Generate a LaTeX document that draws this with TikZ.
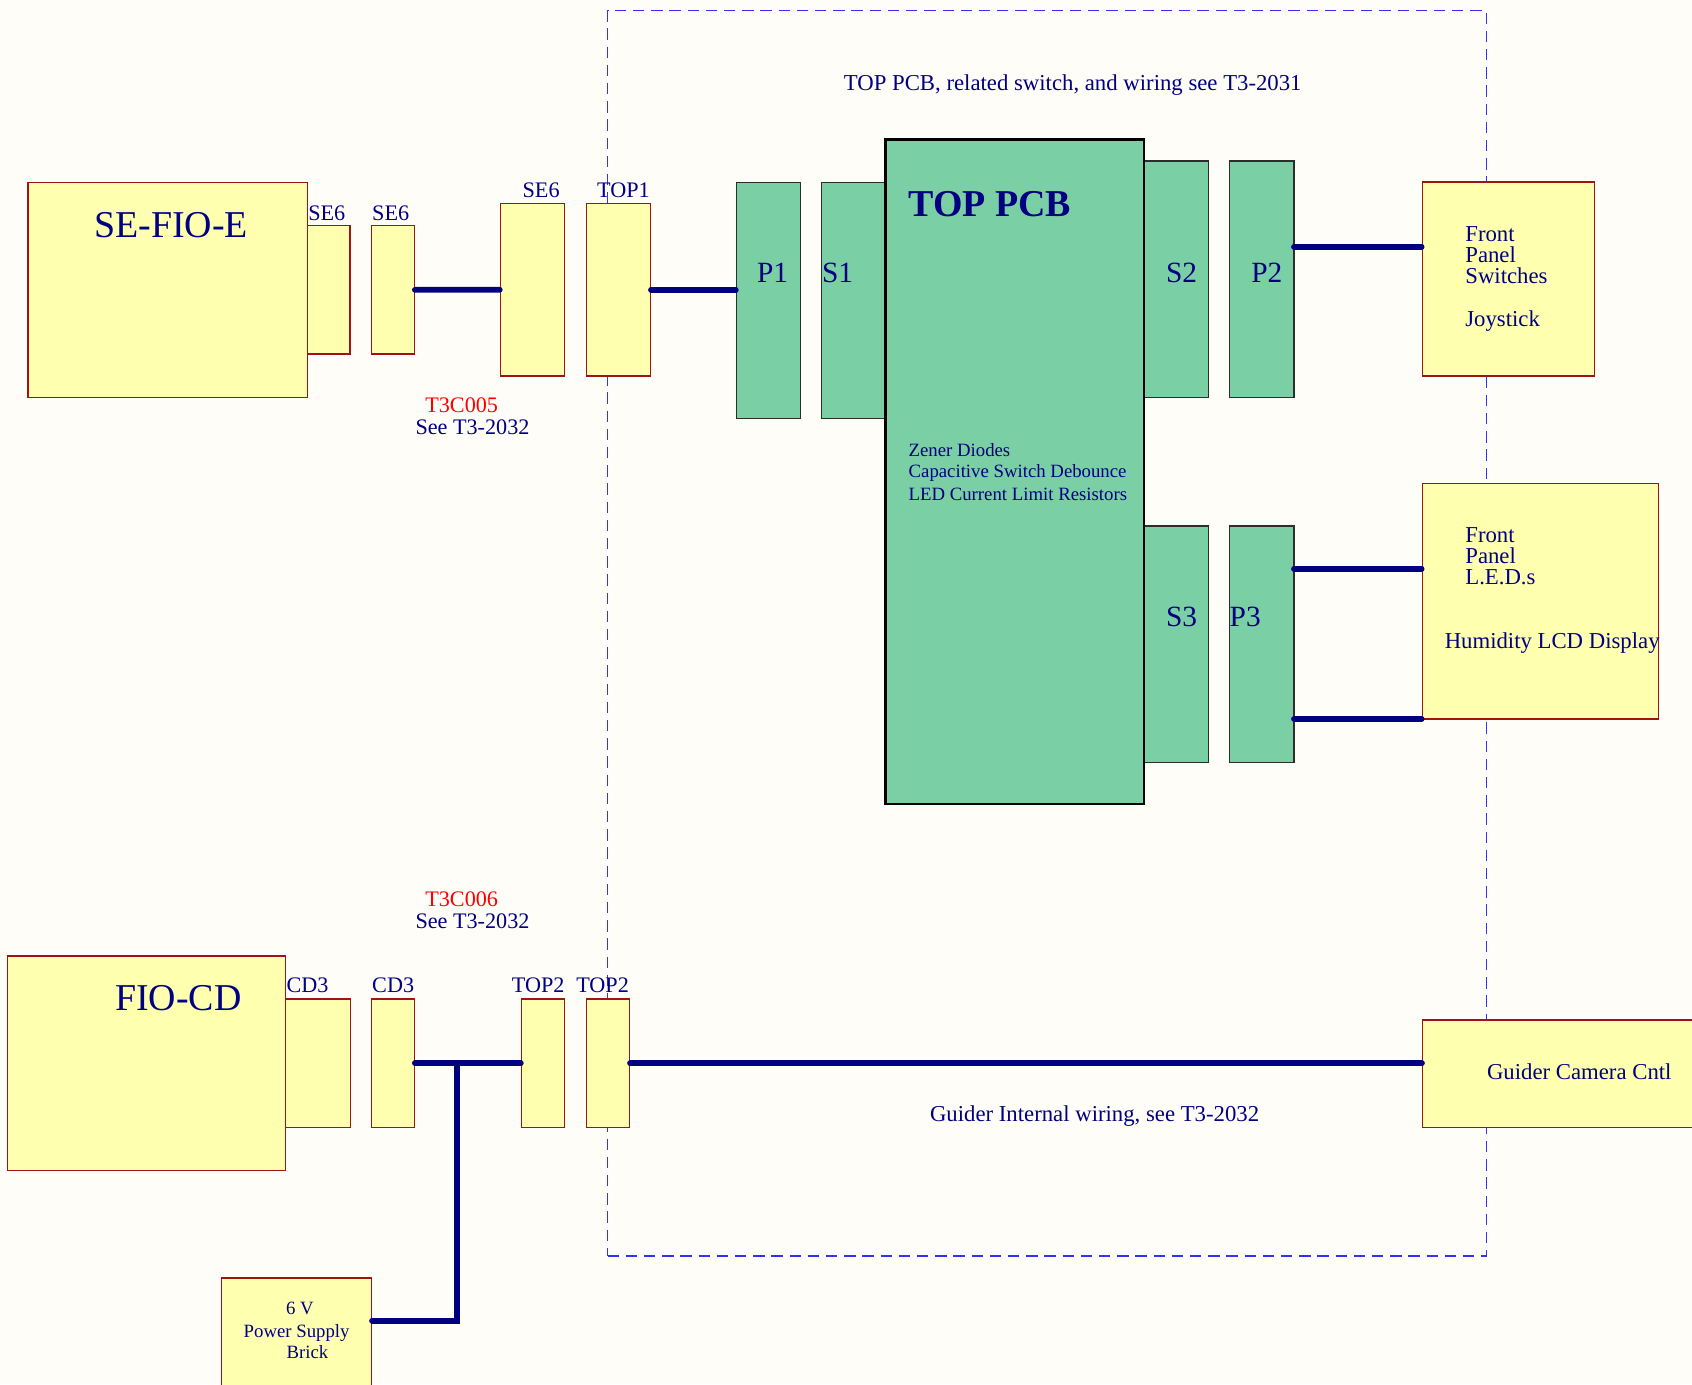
\documentclass[tikz,border=0pt]{standalone}
\usepackage{fontspec}
\setmainfont{Liberation Serif}
\usetikzlibrary{fit}
\definecolor{navy}{RGB}{0,0,128}
\definecolor{bgc}{RGB}{255,253,248}
\definecolor{yfill}{RGB}{255,255,176}
\definecolor{ydraw}{RGB}{160,20,20}
\definecolor{gfill}{RGB}{123,207,165}
\definecolor{gdraw}{RGB}{45,45,45}
\definecolor{dblue}{RGB}{50,50,255}
\definecolor{redtxt}{RGB}{255,0,0}
\begin{document}
\begin{tikzpicture}[x=0.02cm,y=-0.02cm,
  frame/.style={draw=dblue,line width=0.6pt,dash pattern=on 6pt off 3.6pt,inner sep=0pt},
  ybox/.style={draw=ydraw,fill=yfill,line width=0.6pt,inner sep=0pt},
  gbox/.style={draw=gdraw,fill=gfill,line width=0.6pt,inner sep=0pt},
  pcbbox/.style={draw=black,fill=gfill,line width=1.3pt,inner sep=0pt},
  wire/.style={draw=navy,line width=3pt,line cap=round},
  txt/.style={text=navy,inner sep=0pt,anchor=base west},
  lbl/.style={txt,font=\fontsize{11.7pt}{13pt}\selectfont},
  mid/.style={txt,font=\fontsize{12pt}{13pt}\selectfont},
  big/.style={txt,font=\fontsize{20pt}{22pt}\selectfont},
  conn/.style={txt,font=\fontsize{15.5pt}{17pt}\selectfont},
  small/.style={txt,font=\fontsize{9.9pt}{11pt}\selectfont},
  redlbl/.style={lbl,text=redtxt}]
\fill[bgc] (0,0) rectangle (1568,1283);
\useasboundingbox (0,0) rectangle (1568,1283);

% dashed frame
\node[frame,fit={(563,9.9) (1377.7,1164)}] (frame) {};

% top row: SE-FIO-E side
\node[ybox,fit={(26,169) (285,368)}] (sefio) {};
\node[ybox,fit={(285,209.1) (324.4,328.1)}] (se6a) {};
\node[ybox,fit={(344.2,209.1) (383.9,328.1)}] (se6b) {};
\node[ybox,fit={(463.7,188.7) (523.3,348.4)}] (se6c) {};
\node[ybox,fit={(543.2,188.7) (602.7,348.4)}] (top1) {};

% TOP PCB and its connectors
\node[gbox,fit={(682.4,169) (742,387.6)}] (p1) {};
\node[gbox,fit={(761.4,169) (821.1,387.6)}] (s1) {};
\node[gbox,fit={(1060.2,149.2) (1120.1,368.2)}] (s2) {};
\node[gbox,fit={(1139.2,149.2) (1199.1,368.2)}] (p2) {};
\node[gbox,fit={(1059.5,487.4) (1119.8,706.4)}] (s3) {};
\node[gbox,fit={(1139.2,487.4) (1199.1,706.4)}] (p3) {};
\node[pcbbox,fit={(820.7,129.1) (1060.2,745)}] (pcb) {};

% right side boxes
\node[ybox,fit={(1318,168.7) (1477.5,348.4)}] (fps) {};
\node[ybox,fit={(1318,447.8) (1536.8,666.3)}] (fpl) {};
\node[ybox,fit={(1318.3,945.2) (1600,1045)}] (gcc) {};

% bottom row: FIO-CD side
\node[ybox,fit={(6.6,885.9) (264.8,1084.9)}] (fiocd) {};
\node[ybox,fit={(264.8,925.8) (324.7,1045)}] (cd3a) {};
\node[ybox,fit={(344.2,925.8) (383.9,1045)}] (cd3b) {};
\node[ybox,fit={(483.2,925.8) (523.3,1045)}] (top2a) {};
\node[ybox,fit={(543.2,925.8) (583.3,1045)}] (top2b) {};
\node[ybox,fit={(205.2,1184.3) (344.2,1310)}] (pwr) {};

% wires
\draw[wire] (se6b.east) -- (se6c.west);
\draw[wire] (top1.east) -- (top1.east -| p1.west);
\coordinate (w2) at (1199.1,228.6);
\draw[wire] (w2) -- (w2 -| fps.west);
\coordinate (w3a) at (1199.1,527);
\coordinate (w3b) at (1199.1,666.3);
\draw[wire] (w3a) -- (w3a -| fpl.west);
\draw[wire] (w3b) -- (w3b -| fpl.west);
\draw[wire] (cd3b.east) -- (top2a.west);
\coordinate (pj) at (423.6,1223.9);
\draw[wire] (cd3b.east -| pj) -- (pj) -- (pj -| pwr.east);
\draw[wire] (top2b.east) -- (top2b.east -| gcc.west);

% texts
\node[mid] (title) at (781.7,84) {TOP PCB, related switch, and wiring see T3-2031};
\node[txt,font=\fontsize{20pt}{22pt}\selectfont\bfseries] (pcbt) at (841.7,200.8) {TOP PCB};
\node[small] (z1) at (841.7,423.2) {Zener Diodes};
\node[small] (z2) at (841.7,442.7) {Capacitive Switch Debounce};
\node[small] (z3) at (841.7,463.4) {LED Current Limit Resistors};
\node[conn] (p1t) at (701.2,262) {P1};
\node[conn] (s1t) at (761.4,262) {S1};
\node[conn] (s2t) at (1080.2,262) {S2};
\node[conn] (p2t) at (1159.3,262) {P2};
\node[conn] (s3t) at (1080.2,580.7) {S3};
\node[conn] (p3t) at (1139.2,580.7) {P3};

\node[big] (sefiot) at (86.9,220) {SE-FIO-E};
\node[lbl] (se6at) at (285.4,203.9) {SE6};
\node[lbl] (se6bt) at (344.6,203.9) {SE6};
\node[lbl] (se6ct) at (484,182.9) {SE6};
\node[lbl] (top1t) at (553,182.9) {TOP1};
\node[redlbl] (c005) at (393.8,382.1) {T3C005};
\node[lbl] (see1) at (384.7,403.1) {See T3-2032};

\node[mid] (fps1) at (1357.6,223.7) {Front};
\node[mid] (fps2) at (1357.6,243.5) {Panel};
\node[mid] (fps3) at (1357.6,263) {Switches};
\node[mid] (fps4) at (1357.6,302.3) {Joystick};
\node[mid] (fpl1) at (1357.6,502.4) {Front};
\node[mid] (fpl2) at (1357.6,522.3) {Panel};
\node[mid] (fpl3) at (1357.6,541.5) {L.E.D.s};
\node[mid] (fpl4) at (1338.5,600.7) {Humidity LCD Display};

\node[redlbl] (c006) at (393.8,839.6) {T3C006};
\node[lbl] (see2) at (384.7,860.3) {See T3-2032};
\node[big] (fiocdt) at (106.3,936.9) {FIO-CD};
\node[lbl] (cd3at) at (265.2,919.6) {CD3};
\node[lbl] (cd3bt) at (344.6,919.6) {CD3};
\node[lbl] (top2at) at (474.1,919.6) {TOP2};
\node[lbl] (top2bt) at (533.7,919.6) {TOP2};
\node[mid] (gcct) at (1377.7,1000) {Guider Camera Cntl};
\node[mid] (giw) at (861.5,1039.5) {Guider Internal wiring, see T3-2032};
\node[small] (pw1) at (264.8,1218.6) {6 V};
\node[small] (pw2) at (225.5,1239.6) {Power Supply};
\node[small] (pw3) at (265.2,1258.8) {Brick};
\end{tikzpicture}
\end{document}
